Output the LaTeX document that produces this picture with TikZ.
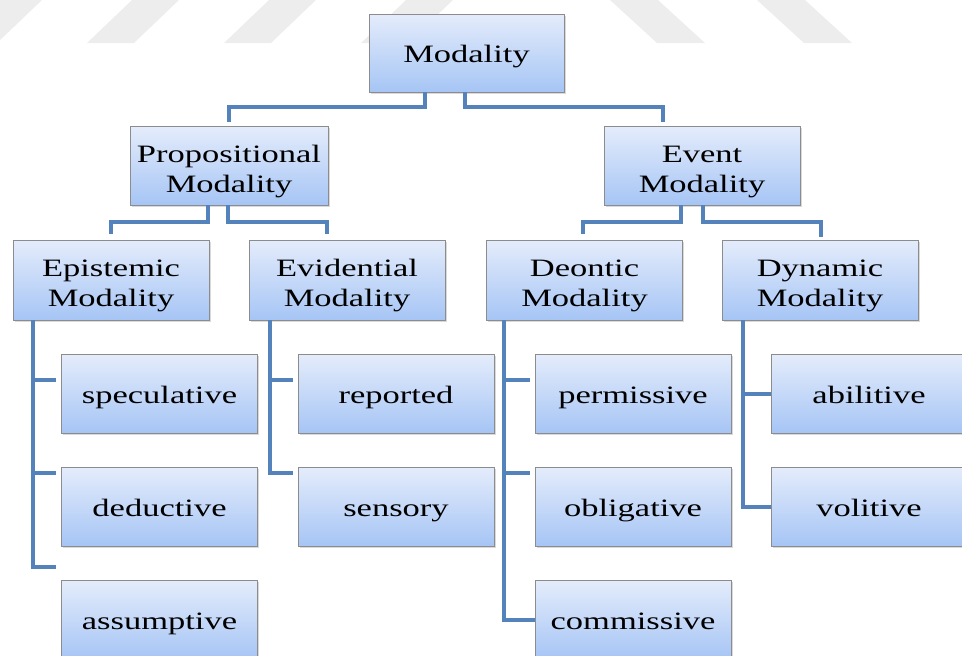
\documentclass[tikz,border=0pt]{standalone}
\usepackage{fontspec}
\setmainfont{Liberation Serif}[FakeStretch=1.38]
\usetikzlibrary{shadows}
\definecolor{conn}{RGB}{84,130,186}
\definecolor{boxtop}{RGB}{228,236,251}
\definecolor{boxbot}{RGB}{166,197,245}
\definecolor{boxline}{RGB}{140,140,140}
\definecolor{wm}{RGB}{237,237,237}
\newcommand{\mytwo}[2]{\begin{tabular}[b]{@{}c@{}}#1\\#2\end{tabular}}
\begin{document}
\begin{tikzpicture}[x=1pt,y=-1pt,
  mbox/.style={draw=boxline, line width=0.8pt, top color=boxtop, bottom color=boxbot,
    minimum width=196pt, minimum height=79pt, inner sep=0pt,
    font=\fontsize{25}{30}\selectfont,
    drop shadow={shadow xshift=1.5pt, shadow yshift=-2pt, opacity=0.3}},
  one/.style={text height=23pt, text depth=4pt},
  two/.style={text height=57pt, text depth=4pt},
  link/.style={draw=conn, line width=4pt},
  wmark/.style={fill=wm, draw=none}]
\useasboundingbox (0,0) rectangle (962,656);
\clip (0,0) rectangle (962,656);
% watermark stripes
\foreach \a in {-50,87,224,361}{
  \path[wmark] (\a+45,0) -- (\a+92,0) -- (\a+47,43) -- (\a,43) -- cycle;
}
\foreach \b in {610,757}{
  \path[wmark] (\b,0) -- (\b+48,0) -- (\b+95,43) -- (\b+47,43) -- cycle;
}
% boxes
\node[mbox, one, minimum width=195pt, minimum height=78pt] (mod) at (466.5,53) {Modality};
\node[mbox, two, minimum width=198pt] (prop) at (229,165.5) {\mytwo{Propositional}{Modality}};
\node[mbox, two] (event) at (702,165.5) {\mytwo{Event}{Modality}};
\node[mbox, two, minimum height=80pt] (epi) at (111,280) {\mytwo{Epistemic}{Modality}};
\node[mbox, two, minimum height=80pt] (evi) at (347,280) {\mytwo{Evidential}{Modality}};
\node[mbox, two, minimum height=80pt] (deo) at (584.5,280) {\mytwo{Deontic}{Modality}};
\node[mbox, two, minimum height=80pt] (dyn) at (820,280) {\mytwo{Dynamic}{Modality}};
\node[mbox, one] (spec) at (159.5,393.5) {speculative};
\node[mbox, one] (ded) at (159.5,506.5) {deductive};
\node[mbox, one] (assu) at (159.5,619.5) {assumptive};
\node[mbox, one] (rep) at (396,393.5) {reported};
\node[mbox, one] (sens) at (396,506.5) {sensory};
\node[mbox, one] (perm) at (633,393.5) {permissive};
\node[mbox, one] (obl) at (633,506.5) {obligative};
\node[mbox, one] (comm) at (633,619.5) {commissive};
\node[mbox, one] (abil) at (869,393.5) {abilitive};
\node[mbox, one] (vol) at (869,506.5) {volitive};
% connectors, top levels
\draw[link] ([xshift=-41.5pt]mod.south) -- ++(0,15) -| ([yshift=4pt]prop.north);
\draw[link] ([xshift=-1.5pt]mod.south) -- ++(0,15) -| ([xshift=-39pt,yshift=4pt]event.north);
\draw[link] ([xshift=-21pt]prop.south) -- ++(0,17) -| ([yshift=6pt]epi.north);
\draw[link] ([xshift=-1pt]prop.south) -- ++(0,17) -| ([xshift=-20pt,yshift=6pt]evi.north);
\draw[link] ([xshift=-21pt]event.south) -- ++(0,17) -| ([xshift=-1.5pt,yshift=6pt]deo.north);
\draw[link] ([xshift=1pt]event.south) -- ++(0,17) -| ([xshift=1pt,yshift=3pt]dyn.north);
% trunks
\draw[link] ([xshift=20pt]epi.south west) |- ([xshift=-5pt,yshift=13.5pt]spec.west);
\draw[link] ([xshift=20pt]epi.south west) |- ([xshift=-5pt,yshift=33.5pt]ded.west);
\draw[link] ([xshift=20pt]epi.south west) |- ([xshift=-5pt,yshift=52.5pt]assu.west);
\draw[link] ([xshift=21pt]evi.south west) |- ([xshift=-5pt,yshift=13.5pt]rep.west);
\draw[link] ([xshift=21pt]evi.south west) |- ([xshift=-5pt,yshift=33.5pt]sens.west);
\draw[link] ([xshift=18pt]deo.south west) |- ([xshift=-5pt,yshift=13.5pt]perm.west);
\draw[link] ([xshift=18pt]deo.south west) |- ([xshift=-5pt,yshift=33.5pt]obl.west);
\draw[link] ([xshift=18pt]deo.south west) |- ([yshift=-0.5pt]comm.west);
\draw[link] ([xshift=21pt]dyn.south west) |- (abil.west);
\draw[link] ([xshift=21pt]dyn.south west) |- (vol.west);
\end{tikzpicture}
\end{document}
